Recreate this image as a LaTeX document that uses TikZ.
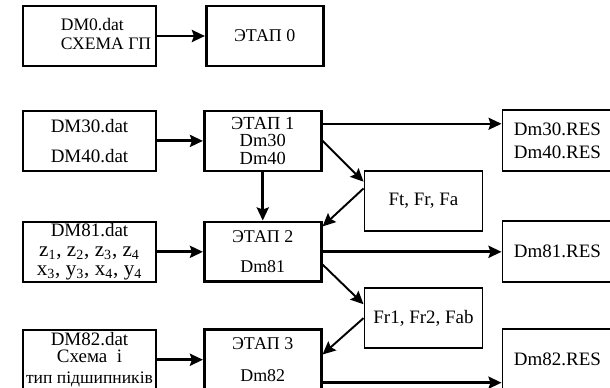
\documentclass[tikz,border=0pt]{standalone}
\usepackage{fontspec}
\setmainfont{Liberation Serif}
\usetikzlibrary{positioning,arrows.meta}

\begin{document}
\begin{tikzpicture}[%
    x=0.02cm,
    y=-0.02cm,
    >={Stealth[length=2.6mm,width=2.4mm,inset=0.4mm]},
    node distance=0.9cm,
    font=\fontsize{10.8}{13}\selectfont,
    inbox/.style={%
      draw,
      line width=1.1pt,
      minimum width=2.66cm,
      minimum height=1.2cm,
      inner sep=0pt,
      align=center
    },
    stagebox/.style={%
      draw,
      line width=1.5pt,
      minimum width=2.34cm,
      minimum height=1.2cm,
      inner sep=0pt,
      align=center
    },
    resbox/.style={%
      draw,
      line width=1.1pt,
      minimum width=2.2cm,
      minimum height=1.22cm,
      inner sep=0pt,
      align=center
    },
    forcebox/.style={%
      draw,
      line width=1.1pt,
      minimum width=2.36cm,
      minimum height=1.2cm,
      inner sep=0pt,
      align=center
    },
    flow/.style={->, line width=1.7pt},
    thinflow/.style={->, line width=1.1pt}
  ]
    \useasboundingbox (0,0) rectangle (610,388);

    % input files
    \node[inbox, font=\fontsize{10}{11}\selectfont] (dm0) at (89.5,36)
      {\hspace*{6.6mm}\begin{tabular}{@{}l@{}}DM0.dat\\СХЕМА ГП\end{tabular}};
    \node[inbox, below=0.86cm of dm0, font=\fontsize{10.8}{17}\selectfont] (dm30) {DM30.dat\\DM40.dat};
    \node[inbox, below=0.98cm of dm30, font=\fontsize{10.8}{11}\selectfont] (dm81)
      {DM81.dat\\
       {\fontsize{12}{11}\selectfont z\textsubscript{1}, z\textsubscript{2}, z\textsubscript{3}, z\textsubscript{4}}\\
       {\fontsize{12}{11}\selectfont x\textsubscript{3}, y\textsubscript{3}, x\textsubscript{4}, y\textsubscript{4}}};
    \node[inbox, below=0.92cm of dm81, font=\fontsize{10.8}{9.8}\selectfont] (dm82)
      {DM82.dat\\Схема\ \ і\\[2.2pt]{\fontsize{10}{9.8}\selectfont тип підшипників}};

    % stages
    \node[stagebox, right=0.96cm of dm0, font=\fontsize{10.2}{12}\selectfont] (e0) {ЭТАП 0};
    \node[stagebox, right=0.92cm of dm30, font=\fontsize{10.5}{9.8}\selectfont] (e1) {ЭТАП 1\\Dm30\\Dm40};
    \node[stagebox, right=0.92cm of dm81, font=\fontsize{10.2}{17}\selectfont] (e2) {ЭТАП 2\\Dm81};
    \node[stagebox, right=0.92cm of dm82, font=\fontsize{10.2}{18}\selectfont] (e3) {ЭТАП 3\\Dm82};

    % results and forces
    \node[resbox, right=3.58cm of e1] (res1) {Dm30.RES\\Dm40.RES};
    \node[resbox, right=3.58cm of e2] (res2) {Dm81.RES};
    \node[resbox, right=3.58cm of e3] (res3) {Dm82.RES};
    \node[forcebox, below right=-0.04cm and 0.82cm of e1] (f1) {Ft, Fr, Fa};
    \node[forcebox, below right=0.08cm and 0.82cm of e2] (f2) {Fr1, Fr2, Fab};

    \draw[flow] (dm0) -- (e0);
    \draw[flow] (dm30) -- (e1);
    \draw[flow] (dm81) -- (e2);
    \draw[flow] (dm82) -- (e3);
    \draw[flow] (e1) -- (e2);
    \draw[thinflow] (e1.16) -- (e1.16 -| res1.west);
    \draw[thinflow] (e1.east) -- (f1.162);
    \draw[thinflow] (f1.168) -- (e2.23);
    \draw[flow] (e2) -- (res2);
    \draw[thinflow] (e2.-12) -- (f2.167);
    \draw[thinflow] (f2.west) -- (e3.5);
    \draw[flow] (e3.-21) -- (e3.-21 -| res3.west);
  \end{tikzpicture}
\end{document}
